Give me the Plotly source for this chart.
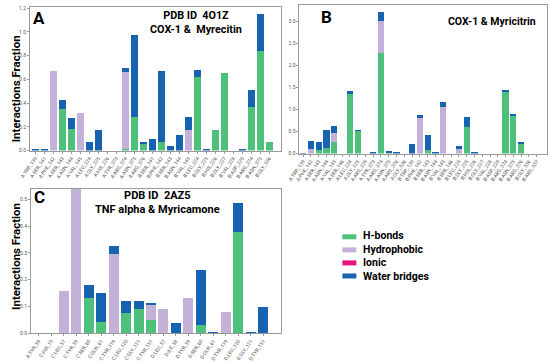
import plotly.graph_objects as go

W, H = 550, 362

# ---------------- Panel A: PDB ID 4O1Z, COX-1 & Myrecitin ----------------
a_labels = ["A:TRP_139", "A:SER_141", "A:PHE_142", "A:SER_143", "A:ASN_144", "A:VAL_145",
            "A:LEU_224", "A:GLY_225", "A:HIS_226", "A:TYR_373", "A:ARG_374", "A:ASN_375",
            "A:ARG_376", "B:SER_141", "B:PHE_142", "B:SER_143", "B:ASN_144", "B:VAL_145",
            "B:LEU_224", "B:GLY_225", "B:HIS_226", "B:GLY_227", "B:VAL_228", "B:ASP_229",
            "B:ARG_374", "B:ASN_375", "B:GLY_536"]
a_hbonds = [0, 0, 0, 0.35, 0.18, 0, 0, 0, 0, 0, 0.01, 0.28, 0.055, 0, 0.07, 0, 0, 0,
            0.62, 0, 0.17, 0.65, 0, 0, 0.37, 0.84, 0.07]
a_hydro = [0, 0, 0.67, 0, 0, 0.32, 0, 0, 0, 0, 0.65, 0, 0, 0, 0, 0, 0, 0.175,
           0, 0, 0, 0, 0, 0, 0, 0, 0]
a_ionic = [0] * 27
a_water = [0.01, 0.01, 0, 0.08, 0.09, 0, 0.07, 0.175, 0, 0, 0.035, 0.69, 0.01, 0.10, 0.60,
           0.037, 0.134, 0.11, 0.06, 0.005, 0, 0, 0, 0.01, 0.14, 0.31, 0]

# ---------------- Panel B: COX-1 & Myricitrin ----------------
b_labels = ["A:TRP_139", "A:PHE_142", "A:SER_143", "A:ASN_144", "A:VAL_145", "A:SER_146",
            "A:LEU_224", "A:GLY_225", "A:ARG_229", "A:TYR_373", "A:ARG_374", "A:ASN_375",
            "A:ARG_376", "A:GLY_536", "B:TRP_139", "B:PHE_142", "B:SER_143", "B:ASN_144",
            "B:VAL_145", "B:SER_146", "B:LEU_224", "B:GLY_225", "B:HIS_226", "B:GLY_227",
            "B:VAL_228", "B:ASP_229", "B:ARG_374", "B:ASN_375", "B:ARG_376", "B:GLY_536",
            "B:ARG_537"]
b_hbonds = [0, 0, 0.07, 0.12, 0.27, 0, 1.37, 0.52, 0, 0, 2.29, 0.02, 0, 0, 0, 0, 0.08, 0,
            0, 0, 0, 0.60, 0, 0, 0, 0, 1.41, 0.85, 0.23, 0, 0]
b_hydro = [0, 0.11, 0, 0, 0.19, 0, 0, 0, 0, 0, 0.71, 0, 0, 0, 0, 0.80, 0, 0, 1.06, 0,
           0.10, 0, 0, 0, 0, 0, 0, 0, 0, 0, 0]
b_ionic = [0] * 31
b_water = [0.01, 0.18, 0.19, 0.42, 0.17, 0, 0.04, 0.01, 0, 0.02, 0.22, 0.03, 0.03, 0, 0.21,
           0.08, 0.33, 0.02, 0.11, 0, 0.07, 0.24, 0.02, 0, 0, 0, 0.03, 0.05, 0.03, 0, 0]

# ---------------- Panel C: PDB ID 2AZ5, TNF alpha & Myricamone ----------------
c_labels = ["A:TYR_59", "C:HIS_15", "C:LEU_57", "C:TYR_59", "C:SER_60", "C:GLN_61",
            "C:TYR_119", "C:LEU_120", "C:GLY_121", "C:TYR_151", "D:LEU_57", "D:ILE_58",
            "D:TYR_59", "D:SER_60", "D:GLN_61", "D:TYR_119", "D:LEU_120", "D:GLY_121",
            "D:TYR_151"]
c_hbonds = [0, 0, 0, 0, 0.13, 0.04, 0, 0.077, 0.09, 0.05, 0, 0, 0, 0.03, 0, 0, 0.377, 0, 0]
c_hydro = [0, 0, 0.156, 0.62, 0, 0, 0.295, 0, 0, 0.055, 0.089, 0, 0.132, 0, 0, 0.08, 0, 0, 0]
c_ionic = [0] * 19
c_water = [0.001, 0.001, 0, 0, 0.05, 0.11, 0.03, 0.045, 0.032, 0.008, 0, 0.037, 0, 0.205,
           0.002, 0, 0.11, 0.004, 0.096]

series_names = ["H-bonds", "Hydrophobic", "Ionic", "Water bridges"]
colors = ["#4dc17b", "#c4b1da", "#e5157d", "#1763b0"]

FONT = "Roboto"
fig = go.Figure()

panels = [
    (a_labels, [a_hbonds, a_hydro, a_ionic, a_water], "x", "y"),
    (b_labels, [b_hbonds, b_hydro, b_ionic, b_water], "x2", "y2"),
    (c_labels, [c_hbonds, c_hydro, c_ionic, c_water], "x3", "y3"),
]
for labels, vals, xa, ya in panels:
    for name, v, col in zip(series_names, vals, colors):
        fig.add_trace(go.Bar(x=labels, y=v, name=name, marker=dict(color=col, line=dict(width=0)),
                             width=0.8, xaxis=xa, yaxis=ya, showlegend=False))

# layout helpers: target pixel positions -> paper fractions (compensating the
# observed offset/scale of the photographed page)
OX, OY, SC = 10.0, 2.0, 0.98


def px(x):
    return ((x - OX) / SC) / W


def py(y):
    return 1 - ((y - OY) / SC) / H


axis_common = dict(showline=True, mirror=True, linecolor="#9a9a9a", linewidth=1,
                   showgrid=False, zeroline=False, ticks="outside", ticklen=2,
                   tickcolor="#9a9a9a", tickfont=dict(size=5, color="#555555", family=FONT))

fig.update_layout(
    width=W, height=H, margin=dict(l=0, r=0, t=0, b=0), autosize=False,
    paper_bgcolor="white", plot_bgcolor="white", barmode="stack", bargap=0.2,
    font=dict(family=FONT),
    xaxis=dict(domain=[px(28), px(280)], anchor="y", range=[-0.59, 27.36], tickangle=-55, **axis_common),
    yaxis=dict(domain=[py(150), py(7)], anchor="x", range=[0, 1.21], dtick=0.2, tickformat=".1f", **axis_common),
    xaxis2=dict(domain=[px(298), px(546)], anchor="y2", range=[-0.47, 31.32], tickangle=-55, **axis_common),
    yaxis2=dict(domain=[py(153), py(5)], anchor="x2", range=[0, 3.37], dtick=0.5, tickformat=".1f", **axis_common),
    xaxis3=dict(domain=[px(29), px(280)], anchor="y3", range=[-0.62, 19.46], tickangle=-55, **axis_common),
    yaxis3=dict(domain=[py(332), py(188)], anchor="x3", range=[0, 0.54], dtick=0.1, tickformat=".1f", **axis_common),
)

ann = []


def text(x, y, s, size, angle=0, xanchor="center", align="center"):
    ann.append(dict(x=px(x), y=py(y), xref="paper", yref="paper", text=s, showarrow=False,
                    xanchor=xanchor, yanchor="middle", textangle=angle, align=align,
                    font=dict(size=size, color="black", family=FONT)))


text(37.5, 18, "<b>A</b>", 17)
text(194, 22, "<b>PDB ID  4O1Z<br>COX-1 &  Myrecitin</b>", 10.8)
text(325, 17, "<b>B</b>", 17)
text(491, 21, "<b>COX-1 & Myricitrin</b>", 10.5)
text(37.5, 196, "<b>C</b>", 17)
text(156, 202, "<b>PDB ID  2AZ5<br>TNF alpha & Myricamone</b>", 11)
text(14, 88, "<b>Interactions Fraction</b>", 11.5, angle=-90)
text(14, 255, "<b>Interactions Fraction</b>", 11.5, angle=-90)

# legend (manual, matching reference layout)
shapes = []
leg_y = [236, 249, 262, 275]
for col, yy in zip(colors, leg_y):
    shapes.append(dict(type="rect", xref="paper", yref="paper", x0=px(341), x1=px(355),
                       y0=py(yy + 2.5), y1=py(yy - 2.5), fillcolor=col, line=dict(width=0)))
text(360, 255.5, "<b>" + "<br>".join(series_names) + "</b>", 10.5, xanchor="left", align="left")

fig.update_layout(annotations=ann, shapes=shapes)
fig.write_html("out.html", config={"displayModeBar": False},
               post_script="document.body.style.margin='0';document.body.style.padding='0';")
